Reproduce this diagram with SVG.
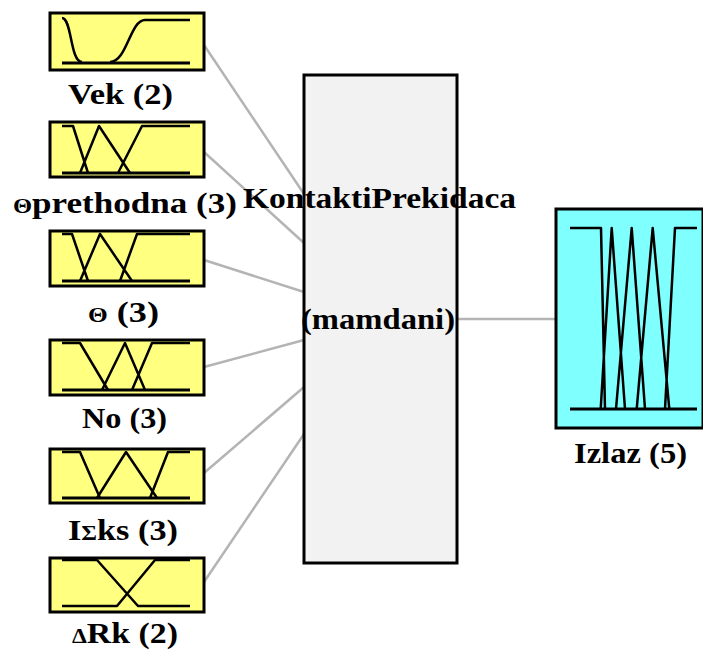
<svg xmlns="http://www.w3.org/2000/svg" width="703" height="653" viewBox="0 0 703 653">
<style>
.conn{stroke:#b4b4b4;stroke-width:2.5;fill:none}
.inbox{fill:#ffff80;stroke:#000;stroke-width:3}
.outbox{fill:#80ffff;stroke:#000;stroke-width:3}
.core{fill:#f2f2f2;stroke:#000;stroke-width:3}
.mf{fill:none;stroke:#000;stroke-width:2.5;stroke-linejoin:round}
.base{fill:none;stroke:#000;stroke-width:3}
.lbl{font-family:'Liberation Serif','Times New Roman',serif;font-weight:700;font-size:30px;fill:#000}
.gr{font-size:21px}
</style>
<rect width="703" height="653" fill="#fff"/>
<g id="connectors">
<line class="conn" x1="204" y1="45" x2="304" y2="194"/>
<line class="conn" x1="204" y1="152" x2="304" y2="243"/>
<line class="conn" x1="204" y1="260" x2="304" y2="292"/>
<line class="conn" x1="204" y1="367" x2="304" y2="340"/>
<line class="conn" x1="204" y1="473" x2="304" y2="387"/>
<line class="conn" x1="204" y1="582" x2="304" y2="434"/>
<line class="conn" x1="457" y1="319" x2="556" y2="319"/>
</g>
<g id="in-vek">
<rect class="inbox" x="50" y="13" width="154" height="57"/>
<line class="base" x1="62" y1="63" x2="190" y2="63"/>
<path class="mf" d="M62,18 C72,18 70,62 82,62 M110,62 C127,62 130,20 145,20 L190,20"/>
<text class="lbl" x="68" y="104" textLength="105" lengthAdjust="spacingAndGlyphs">Vek (2)</text>
</g>
<g id="in-prethodna">
<rect class="inbox" x="50" y="122" width="154" height="55"/>
<line class="base" x1="62" y1="173" x2="190" y2="173"/>
<path class="mf" d="M62,126 L73,126 L88,173 M80,173 L99,126 L130,173 M118,173 L142,126 L190,126"/>
<text class="lbl" x="13" y="213" textLength="224" lengthAdjust="spacingAndGlyphs"><tspan class="gr">Θ</tspan>prethodna (3)</text>
</g>
<g id="in-theta">
<rect class="inbox" x="50" y="231" width="154" height="55"/>
<line class="base" x1="62" y1="281" x2="190" y2="281"/>
<path class="mf" d="M62,234 L72,234 L88,281 M80,281 L100,234 L132,281 M120,281 L137,234 L190,234"/>
<text class="lbl" x="88" y="322" textLength="71" lengthAdjust="spacingAndGlyphs"><tspan class="gr">Θ</tspan> (3)</text>
</g>
<g id="in-no">
<rect class="inbox" x="50" y="340" width="154" height="55"/>
<line class="base" x1="62" y1="390" x2="190" y2="390"/>
<path class="mf" d="M62,343 L80,343 L108,390 M102,390 L125,343 L145,390 M132,390 L152,343 L190,343"/>
<text class="lbl" x="82" y="428" textLength="85" lengthAdjust="spacingAndGlyphs">No (3)</text>
</g>
<g id="in-iks">
<rect class="inbox" x="50" y="449" width="154" height="54"/>
<line class="base" x1="62" y1="498" x2="190" y2="498"/>
<path class="mf" d="M62,452 L80,452 L100,498 M97,498 L126,452 L157,498 M150,498 L168,452 L190,452"/>
<text class="lbl" x="68" y="540" textLength="110" lengthAdjust="spacingAndGlyphs">I<tspan class="gr">Σ</tspan>ks (3)</text>
</g>
<g id="in-drk">
<rect class="inbox" x="50" y="558" width="154" height="54"/>
<path class="mf" d="M62,560 L97,560 L138,606 L190,606 M62,606 L117,606 L155,560 L190,560"/>
<text class="lbl" x="72" y="643" textLength="106" lengthAdjust="spacingAndGlyphs"><tspan class="gr">Δ</tspan>Rk (2)</text>
</g>
<g id="core">
<rect class="core" x="304" y="75" width="153" height="488"/>
<text class="lbl" x="243" y="208" textLength="273" lengthAdjust="spacingAndGlyphs">KontaktiPrekidaca</text>
<text class="lbl" x="301" y="329" textLength="154" lengthAdjust="spacingAndGlyphs">(mamdani)</text>
</g>
<g id="out-izlaz">
<rect class="outbox" x="556" y="209" width="147" height="219"/>
<line class="base" x1="570" y1="409" x2="697" y2="409"/>
<path class="mf" d="M570,228 L601,228 L605,409 M600.7,409 L611.7,228 L625,409 M616,409 L631.7,228 L645,409 M636.7,409 L652.7,228 L669.3,409 M665,409 L675,228 L697,228"/>
<text class="lbl" x="574" y="463" textLength="113" lengthAdjust="spacingAndGlyphs">Izlaz (5)</text>
</g>
</svg>
